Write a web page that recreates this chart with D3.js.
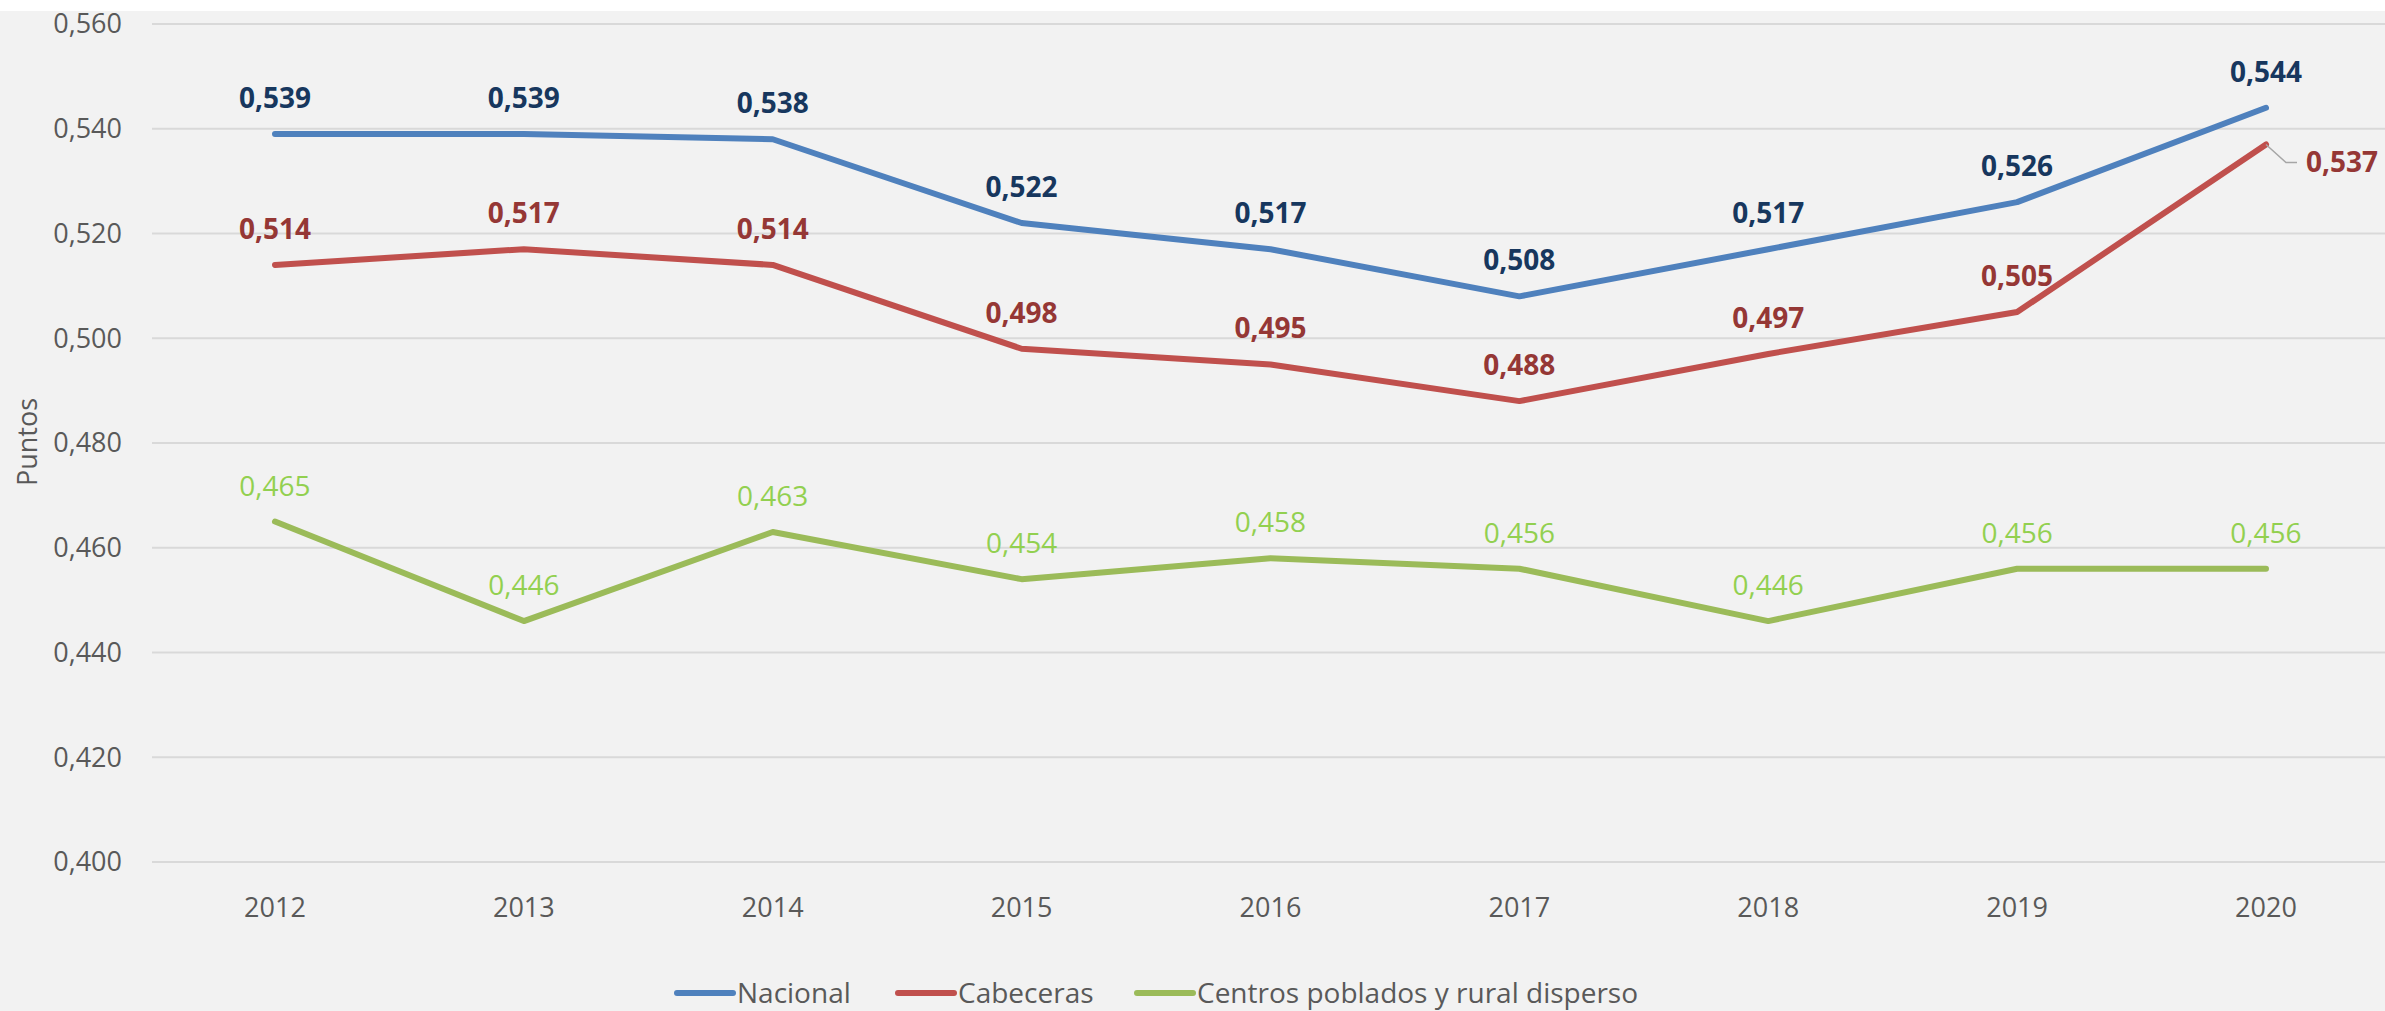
<!DOCTYPE html>
<html>
<head>
<meta charset="utf-8">
<script src="https://cdn.jsdelivr.net/npm/d3@7"></script>
<style>
  body { margin: 0; background: #fff; }
  svg { display: block; font-family: "Open Sans", "Noto Sans", sans-serif; }
</style>
</head>
<body>
<svg id="chart" width="2385" height="1011"></svg>
<script>
// data
var years = ["2012", "2013", "2014", "2015", "2016", "2017", "2018", "2019", "2020"];
var nacional = [0.539, 0.539, 0.538, 0.522, 0.517, 0.508, 0.517, 0.526, 0.544];
var cabeceras = [0.514, 0.517, 0.514, 0.498, 0.495, 0.488, 0.497, 0.505, 0.537];
var centros = [0.465, 0.446, 0.463, 0.454, 0.458, 0.456, 0.446, 0.456, 0.456];
var yTicks = [0.400, 0.420, 0.440, 0.460, 0.480, 0.500, 0.520, 0.540, 0.560];
var seriesNames = ["Nacional", "Cabeceras", "Centros poblados y rural disperso"];

var series = [
  { name: seriesNames[0], values: nacional, color: "#4f81bd", label: "#17375e", weight: "bold" },
  { name: seriesNames[1], values: cabeceras, color: "#c0504d", label: "#953735", weight: "bold" },
  { name: seriesNames[2], values: centros, color: "#9bbb59", label: "#92d050", weight: "normal" }
];

var svg = d3.select("#chart");
var W = 2385, H = 1011;

svg.append("rect").attr("x", 0).attr("y", 11).attr("width", W).attr("height", H - 11).attr("fill", "#f2f2f2");

var x = d3.scalePoint().domain(years).range([275, 2266]);
var y = d3.scaleLinear().domain([0.400, 0.560]).range([862, 24]);
var fmt = function (v) { return d3.format(".3f")(v).replace(".", ","); };

// grid
svg.append("g").selectAll("line").data(yTicks).enter().append("line")
  .attr("x1", 152).attr("x2", W)
  .attr("y1", function (d) { return y(d); }).attr("y2", function (d) { return y(d); })
  .attr("stroke", "#d9d9d9").attr("stroke-width", 2);

// y axis labels
svg.append("g").selectAll("text").data(yTicks).enter().append("text")
  .attr("x", 122).attr("y", function (d) { return y(d); })
  .attr("dy", "0.35em").attr("text-anchor", "end")
  .attr("font-size", 27).attr("fill", "#595959")
  .text(fmt);

// x axis labels
svg.append("g").selectAll("text").data(years).enter().append("text")
  .attr("x", function (d) { return x(d); }).attr("y", 917)
  .attr("text-anchor", "middle").attr("font-size", 27).attr("fill", "#595959")
  .text(function (d) { return d; });

// y title
svg.append("text")
  .attr("transform", "translate(37,442) rotate(-90)")
  .attr("text-anchor", "middle").attr("font-size", 27).attr("fill", "#595959")
  .text("Puntos");

var line = d3.line()
  .x(function (d, i) { return x(years[i]); })
  .y(function (d) { return y(d); });

series.forEach(function (s, si) {
  svg.append("path").datum(s.values)
    .attr("d", line).attr("fill", "none")
    .attr("stroke", s.color).attr("stroke-width", 6)
    .attr("stroke-linecap", "round").attr("stroke-linejoin", "round");

  var g = svg.append("g");
  s.values.forEach(function (v, i) {
    var px = x(years[i]), py = y(v);
    var t = g.append("text")
      .attr("font-size", 28).attr("font-weight", s.weight).attr("fill", s.label)
      .text(fmt(v));
    if (si === 1 && i === years.length - 1) {
      // leader line to the right
      g.append("path")
        .attr("d", "M" + px + "," + py + "L" + (px + 20) + "," + (py + 18) + "L" + (px + 31) + "," + (py + 18))
        .attr("fill", "none").attr("stroke", "#a6a6a6").attr("stroke-width", 1.5);
      t.attr("x", px + 40).attr("y", py + 28).attr("text-anchor", "start");
    } else {
      t.attr("x", px).attr("y", py - 26).attr("text-anchor", "middle");
    }
  });
});

// legend
var legX = [677, 898, 1137];
series.forEach(function (s, i) {
  svg.append("line")
    .attr("x1", legX[i]).attr("x2", legX[i] + 56)
    .attr("y1", 993).attr("y2", 993)
    .attr("stroke", s.color).attr("stroke-width", 6).attr("stroke-linecap", "round");
  svg.append("text")
    .attr("x", legX[i] + 60).attr("y", 993).attr("dy", "0.35em")
    .attr("font-size", 28).attr("fill", "#595959")
    .text(s.name);
});
</script>
</body>
</html>
